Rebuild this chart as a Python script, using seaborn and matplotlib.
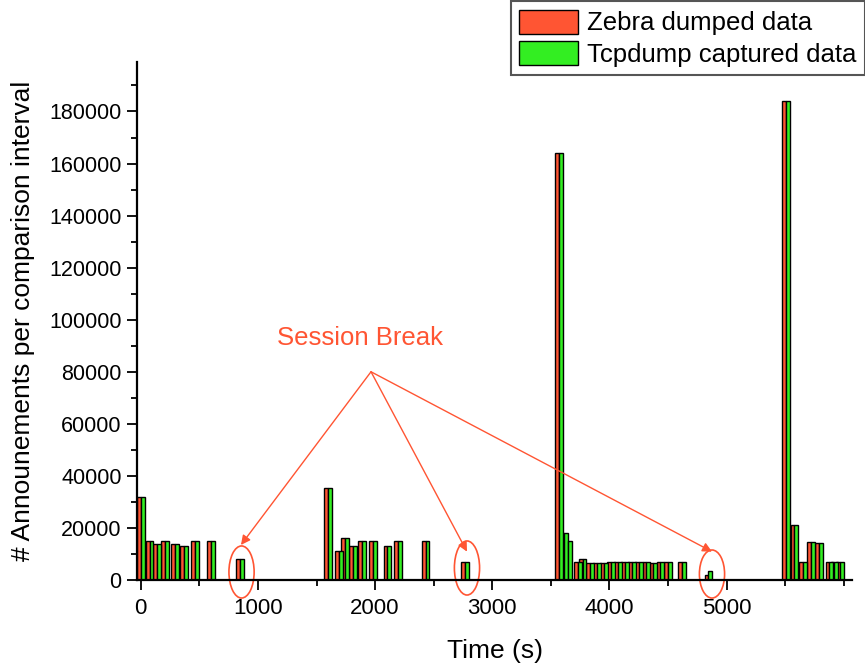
import numpy as np
import pandas as pd
import matplotlib
matplotlib.use("Agg")
import matplotlib.pyplot as plt
from matplotlib.patches import Ellipse
from matplotlib.ticker import MultipleLocator
import seaborn as sns

# ---------------- data ----------------
times = [0, 75, 140, 205, 290, 370, 460, 600, 845,
         1600, 1690, 1740, 1810, 1885, 1980, 2105, 2195, 2430, 2765,
         3567, 3610, 3645, 3730, 3770, 3835, 3895, 3955, 4015, 4075, 4135,
         4195, 4255, 4315, 4375, 4435, 4497, 4620, 4845,
         5508, 5579, 5650, 5722, 5787, 5877, 5920, 5965]
zebra = [32000, 15000, 14000, 15000, 14000, 13000, 15000, 15000, 8000,
         35500, 11000, 16000, 13000, 15000, 15000, 13000, 15000, 15000, 7000,
         164000, 18000, 15000, 7000, 8200, 6400, 6500, 6600, 6900, 6900, 6800,
         6900, 6900, 6900, 6500, 6900, 6800, 7000, 2000,
         184000, 21300, 7000, 14500, 14200, 7000, 7000, 7000]
tcpdump = [32000, 15000, 14000, 15000, 14000, 13000, 15000, 15000, 8000,
           35500, 11000, 16000, 13000, 15000, 15000, 13000, 15000, 15000, 7000,
           164000, 18000, 15000, 7000, 8200, 6400, 6500, 6600, 6900, 6900, 6800,
           6900, 6900, 6900, 6500, 6900, 6800, 7000, 3500,
           184000, 21300, 7000, 14500, 14200, 7000, 7000, 7000]
series_names = ["Zebra dumped data", "Tcpdump captured data"]
x_ticks = [0, 1000, 2000, 3000, 4000, 5000]
y_ticks = list(range(0, 180001, 20000))
break_times = [860, 2784, 4875]          # circled session breaks
break_heights = [13460, 10900, 10900]    # arrow tips

RED = "#FF5533"
GREEN = "#33EE22"

df = pd.DataFrame({
    "time": times * 2,
    "value": zebra + tcpdump,
    "series": [series_names[0]] * len(times) + [series_names[1]] * len(times),
})

sns.set_style("ticks")
plt.rcParams["font.family"] = ["Liberation Sans", "DejaVu Sans"]
plt.rcParams["text.color"] = "black"
plt.rcParams["axes.labelcolor"] = "black"
plt.rcParams["xtick.color"] = "black"
plt.rcParams["ytick.color"] = "black"

fig = plt.figure(figsize=(8.65, 6.64), dpi=100)
ax = fig.add_axes([0.1584, 0.1265, 0.8266, 0.7801])

pair_width = 66.0
min_gap = np.min(np.diff(np.unique(times)))
sns.barplot(data=df, x="time", y="value", hue="series", hue_order=series_names,
            palette=[RED, GREEN], native_scale=True, width=pair_width / min_gap,
            dodge=True, errorbar=None, edgecolor="black", linewidth=1.0,
            saturation=1, ax=ax)

handles, labels = ax.get_legend_handles_labels()
if ax.get_legend() is not None:
    ax.get_legend().remove()

ax.set_xlim(-32, 6070)
ax.set_ylim(0, 199000)
ax.set_xticks(x_ticks)
ax.set_xticklabels([str(t) for t in x_ticks])
ax.xaxis.set_minor_locator(MultipleLocator(500))
ax.set_yticks(y_ticks)
ax.set_yticklabels([str(t) for t in y_ticks])
ax.yaxis.set_minor_locator(MultipleLocator(10000))

for s in ["top", "right"]:
    ax.spines[s].set_visible(False)
for s in ["left", "bottom"]:
    ax.spines[s].set_linewidth(1.6)
    ax.spines[s].set_color("black")
ax.tick_params(axis="x", which="major", direction="out", length=7, width=1.3,
               labelsize=16, colors="black", pad=6)
ax.tick_params(axis="y", which="major", direction="out", length=7.5, width=1.3,
               labelsize=15.5, colors="black")
ax.tick_params(which="minor", direction="out", length=4, width=1.3)

ax.set_xlabel("Time (s)", fontsize=19, labelpad=14, color="black")
ax.set_ylabel("# Announements per comparison interval", fontsize=19,
              labelpad=10, color="black")

# session break annotation
origin = (1965, 80000)
ax.text(1872, 93000, "Session Break", color=RED, fontsize=18.5,
        ha="center", va="center")
for bt, bh in zip(break_times, break_heights):
    ax.annotate("", xy=(bt - 5 if bt < 1000 else bt, bh), xytext=origin,
                arrowprops=dict(arrowstyle="-|>", color=RED, lw=1.0,
                                mutation_scale=14, shrinkA=0, shrinkB=0))
ell_centers_y = [3077, 4615, 2300]
ell_h = [20000, 20770, 18460]
for bt, cy, eh in zip(break_times, ell_centers_y, ell_h):
    e = Ellipse((bt, cy), width=215, height=eh, fill=False,
                edgecolor=RED, lw=1.2, clip_on=False)
    ax.add_patch(e)

leg = fig.legend(handles, labels, loc="upper right", bbox_to_anchor=(1.0, 0.998),
                 fontsize=18.5, frameon=True, fancybox=False, framealpha=1,
                 edgecolor="#555555", handlelength=2.3, handleheight=1.05,
                 handletextpad=0.35, labelspacing=0.22, borderpad=0.33,
                 borderaxespad=0)
leg.get_frame().set_linewidth(1.5)

fig.savefig("out.png", dpi=100)
